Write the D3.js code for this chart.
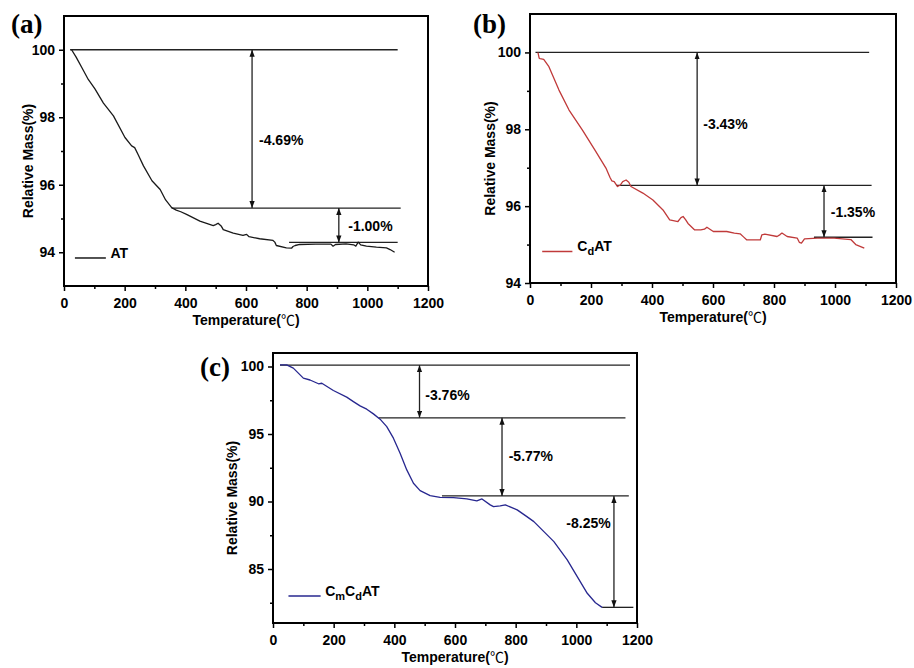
<!DOCTYPE html>
<meta charset="utf-8">
<style>
body { margin: 0; background: #fff; }
text { font-family: "Liberation Sans", Arial, sans-serif; font-weight: bold; fill: #000; }
.axis path { display: none; }
.axis line { stroke: #000; stroke-width: 1.5px; }
.axis text { font-size: 14px; font-family: "Liberation Sans", Arial, sans-serif; font-weight: bold; }
.frame { fill: none; stroke: #000; stroke-width: 2px; }
.guide { stroke: #222; stroke-width: 1.3px; fill: none; }
.curve { fill: none; stroke-width: 1.3px; stroke-linejoin: round; }
.plabel { font-family: "Liberation Serif", "Times New Roman", serif; font-size: 27px; }
</style>
<svg width="914" height="668"></svg>
<script src="https://d3js.org/d3.v7.min.js"></script>
<script>

// shared x ticks
var tickX = [0, 200, 400, 600, 800, 1000, 1200];
var minorX = [100, 300, 500, 700, 900, 1100];

// (a) AT
var atTemp = [25, 40, 60, 80, 102, 130, 163, 201, 223, 233, 245, 262, 290, 317, 335, 355, 370, 385, 404, 448, 492, 500, 508, 518, 525, 558, 590, 602, 610, 645, 689, 695, 700, 733, 750, 755, 762, 777, 830, 880, 887, 895, 930, 955, 962, 970, 978, 997, 1030, 1063, 1075, 1090];
var atMass = [100, 99.78, 99.45, 99.12, 98.84, 98.42, 98.04, 97.4, 97.15, 97.1, 96.88, 96.56, 96.12, 95.86, 95.55, 95.32, 95.25, 95.2, 95.12, 94.92, 94.79, 94.82, 94.86, 94.78, 94.67, 94.57, 94.5, 94.53, 94.46, 94.4, 94.35, 94.3, 94.2, 94.13, 94.12, 94.17, 94.2, 94.23, 94.24, 94.24, 94.18, 94.23, 94.25, 94.22, 94.18, 94.3, 94.22, 94.18, 94.15, 94.13, 94.08, 94.0];
var atTicksY = [94, 96, 98, 100];
var atMinorY = [95, 97, 99];
var atLevels = [100, 95.31, 94.29];
var atLevelFrom = [20, 355, 742];
var atLevelTo = [1100, 1110, 1100];
var atArrowT = [620, 906];
var atArrowText = ["-4.69%", "-1.00%"];
var atTextT = [643, 937];
var atTextV = [97.32, 94.77];

// (b) CdAT
var cdTemp = [26, 30, 33, 45, 62, 95, 128, 172, 216, 249, 262, 268, 276, 287, 296, 304, 315, 324, 331, 370, 403, 436, 458, 485, 495, 502, 510, 518, 540, 560, 572, 580, 601, 645, 670, 689, 700, 711, 755, 760, 770, 810, 820, 826, 843, 876, 883, 890, 900, 942, 997, 1052, 1068, 1096];
var cdMass = [100, 99.85, 99.84, 99.82, 99.63, 99.02, 98.5, 97.98, 97.42, 96.99, 96.75, 96.66, 96.64, 96.51, 96.55, 96.64, 96.68, 96.62, 96.51, 96.34, 96.16, 95.9, 95.64, 95.6, 95.7, 95.73, 95.65, 95.55, 95.38, 95.38, 95.4, 95.45, 95.34, 95.34, 95.3, 95.28, 95.2, 95.12, 95.12, 95.25, 95.27, 95.21, 95.26, 95.3, 95.21, 95.17, 95.06, 95.04, 95.15, 95.17, 95.17, 95.13, 95.0, 94.91];
var cdTicksY = [94, 96, 98, 100];
var cdMinorY = [95, 97, 99];
var cdLevels = [100, 96.54, 95.19];
var cdLevelFrom = [18, 282, 931];
var cdLevelTo = [1112, 1120, 1123];
var cdArrowT = [548, 964];
var cdArrowText = ["-3.43%", "-1.35%"];
var cdTextT = [568, 986];
var cdTextV = [98.14, 95.84];

// (c) CmCdAT
var cmTemp = [23, 45, 67, 100, 122, 150, 161, 199, 243, 265, 287, 309, 331, 353, 375, 397, 419, 441, 463, 485, 518, 551, 595, 639, 672, 689, 716, 727, 749, 766, 805, 837, 860, 893, 926, 970, 1003, 1036, 1063, 1085];
var cmMass = [100.12, 100.12, 99.88, 99.14, 99.0, 98.72, 98.76, 98.22, 97.73, 97.4, 97.08, 96.84, 96.49, 96.1, 95.55, 94.69, 93.58, 92.34, 91.35, 90.81, 90.44, 90.31, 90.29, 90.19, 90.04, 90.19, 89.75, 89.62, 89.67, 89.75, 89.38, 88.88, 88.51, 87.77, 87.03, 85.67, 84.43, 83.2, 82.5, 82.16];
var cmTicksY = [85, 90, 95, 100];
var cmMinorY = [82.5, 87.5, 92.5, 97.5];
var cmLevels = [100.1, 96.2, 90.41, 82.16];
var cmLevelFrom = [23, 348, 557, 1085];
var cmLevelTo = [1177, 1162, 1173, 1188];
var cmArrowT = [483, 755, 1124];
var cmArrowText = ["-3.76%", "-5.77%", "-8.25%"];
var cmTextT = [502, 777, 967];
var cmTextV = [97.9, 93.38, 88.39];

var svg = d3.select("svg");
var fmt = d3.format("d");

var defs = svg.append("defs");
defs.append("marker")
    .attr("id", "arr")
    .attr("viewBox", "0 0 8 6")
    .attr("refX", 8).attr("refY", 3)
    .attr("markerWidth", 7).attr("markerHeight", 5.5)
    .attr("markerUnits", "userSpaceOnUse")
    .attr("orient", "auto-start-reverse")
  .append("path")
    .attr("d", "M0,0L8,3L0,6Z")
    .attr("fill", "#111");

function drawPanel(p) {
  var x = d3.scaleLinear().domain([0, 1200]).range([p.left, p.right]);
  var y = d3.scaleLinear().domain(p.yDomain).range([p.bottom, p.top]);
  var g = svg.append("g");

  // axes
  g.append("g").attr("class", "axis")
      .attr("transform", "translate(0," + p.bottom + ")")
      .call(d3.axisBottom(x).tickValues(tickX).tickSize(5).tickSizeOuter(0).tickPadding(7).tickFormat(fmt));
  g.append("g").attr("class", "axis")
      .attr("transform", "translate(0," + p.bottom + ")")
      .call(d3.axisBottom(x).tickValues(minorX).tickSize(3).tickSizeOuter(0).tickFormat(""));
  g.append("g").attr("class", "axis")
      .attr("transform", "translate(" + p.left + ",0)")
      .call(d3.axisLeft(y).tickValues(p.ticksY).tickSize(5).tickSizeOuter(0).tickPadding(4).tickFormat(fmt));
  g.append("g").attr("class", "axis")
      .attr("transform", "translate(" + p.left + ",0)")
      .call(d3.axisLeft(y).tickValues(p.minorY).tickSize(3).tickSizeOuter(0).tickFormat(""));

  g.append("rect").attr("class", "frame")
      .attr("x", p.left).attr("y", p.top)
      .attr("width", p.right - p.left).attr("height", p.bottom - p.top);

  // titles
  var xt = g.append("text")
      .attr("x", (p.left + p.right) / 2).attr("y", p.bottom + 39)
      .attr("text-anchor", "middle").style("font-size", "14px")
      .text("Temperature(");
  xt.append("tspan").style("font-family", "'Noto Sans CJK SC', 'DejaVu Sans'")
      .style("font-weight", "normal").text("\u2103");
  xt.append("tspan").text(")");

  g.append("text")
      .attr("transform", "translate(" + (p.left - p.titleOff) + "," + ((p.top + p.bottom) / 2 + 10) + ") rotate(-90)")
      .attr("text-anchor", "middle").style("font-size", "14px")
      .text("Relative Mass(%)");

  g.append("text").attr("class", "plabel")
      .attr("x", p.labelX).attr("y", p.labelY).text(p.label);

  // guide levels
  g.selectAll(".lvl").data(p.levels).enter().append("line")
      .attr("class", "guide")
      .attr("x1", function(d, i) { return x(p.levelFrom[i]); })
      .attr("x2", function(d, i) { return x(p.levelTo[i]); })
      .attr("y1", function(d) { return y(d); })
      .attr("y2", function(d) { return y(d); });

  // double arrows
  g.selectAll(".arw").data(p.arrowT).enter().append("line")
      .attr("class", "guide")
      .attr("x1", function(d) { return x(d); })
      .attr("x2", function(d) { return x(d); })
      .attr("y1", function(d, i) { return y(p.levels[i]); })
      .attr("y2", function(d, i) { return y(p.levels[i + 1]); })
      .attr("marker-start", "url(#arr)")
      .attr("marker-end", "url(#arr)");

  g.selectAll(".pct").data(p.arrowText).enter().append("text")
      .attr("x", function(d, i) { return x(p.textT[i]); })
      .attr("y", function(d, i) { return y(p.textV[i]); })
      .attr("dy", "0.35em").style("font-size", "14px")
      .text(function(d) { return d; });

  // curve
  var pts = p.temp.map(function(t, i) { return [t, p.mass[i]]; });
  g.append("path").attr("class", "curve")
      .attr("stroke", p.color)
      .attr("d", d3.line().x(function(d) { return x(d[0]); }).y(function(d) { return y(d[1]); })(pts));

  // legend
  g.append("line")
      .attr("x1", x(p.legT[0])).attr("x2", x(p.legT[1]))
      .attr("y1", y(p.legV)).attr("y2", y(p.legV))
      .attr("stroke", p.color).attr("stroke-width", 1.5);
  var lt = g.append("text")
      .attr("x", x(p.legT[2])).attr("y", y(p.legV))
      .attr("dy", "0.35em").style("font-size", "14px");
  p.legParts.forEach(function(s) {
    if (s.sub) {
      lt.append("tspan").attr("dy", 4).style("font-size", "11px").text(s.t);
    } else {
      lt.append("tspan").attr("dy", s.after ? -4 : 0).text(s.t);
    }
  });
}

drawPanel({
  left: 64, right: 428, top: 16, bottom: 286, yDomain: [93, 101], titleOff: 31,
  ticksY: atTicksY, minorY: atMinorY, label: "(a)", labelX: 11, labelY: 33,
  temp: atTemp, mass: atMass, color: "#1a1a1a",
  levels: atLevels, levelFrom: atLevelFrom, levelTo: atLevelTo,
  arrowT: atArrowT, arrowText: atArrowText, textT: atTextT, textV: atTextV,
  legT: [36, 138, 153], legV: 93.83, legParts: [{t: "AT"}]
});

drawPanel({
  left: 530, right: 896, top: 14, bottom: 283, yDomain: [94, 101], titleOff: 35,
  ticksY: cdTicksY, minorY: cdMinorY, label: "(b)", labelX: 473, labelY: 33,
  temp: cdTemp, mass: cdMass, color: "#c03a3a",
  levels: cdLevels, levelFrom: cdLevelFrom, levelTo: cdLevelTo,
  arrowT: cdArrowT, arrowText: cdArrowText, textT: cdTextT, textV: cdTextV,
  legT: [40, 139, 155], legV: 94.82, legParts: [{t: "C"}, {t: "d", sub: true}, {t: "AT", after: true}]
});

drawPanel({
  left: 273, right: 637, top: 353, bottom: 623, yDomain: [81, 101], titleOff: 36,
  ticksY: cmTicksY, minorY: cmMinorY, label: "(c)", labelX: 200, labelY: 376,
  temp: cmTemp, mass: cmMass, color: "#27278f",
  levels: cmLevels, levelFrom: cmLevelFrom, levelTo: cmLevelTo,
  arrowT: cmArrowT, arrowText: cmArrowText, textT: cmTextT, textV: cmTextV,
  legT: [51, 157, 172], legV: 83.0,
  legParts: [{t: "C"}, {t: "m", sub: true}, {t: "C", after: true}, {t: "d", sub: true}, {t: "AT", after: true}]
});

</script>
